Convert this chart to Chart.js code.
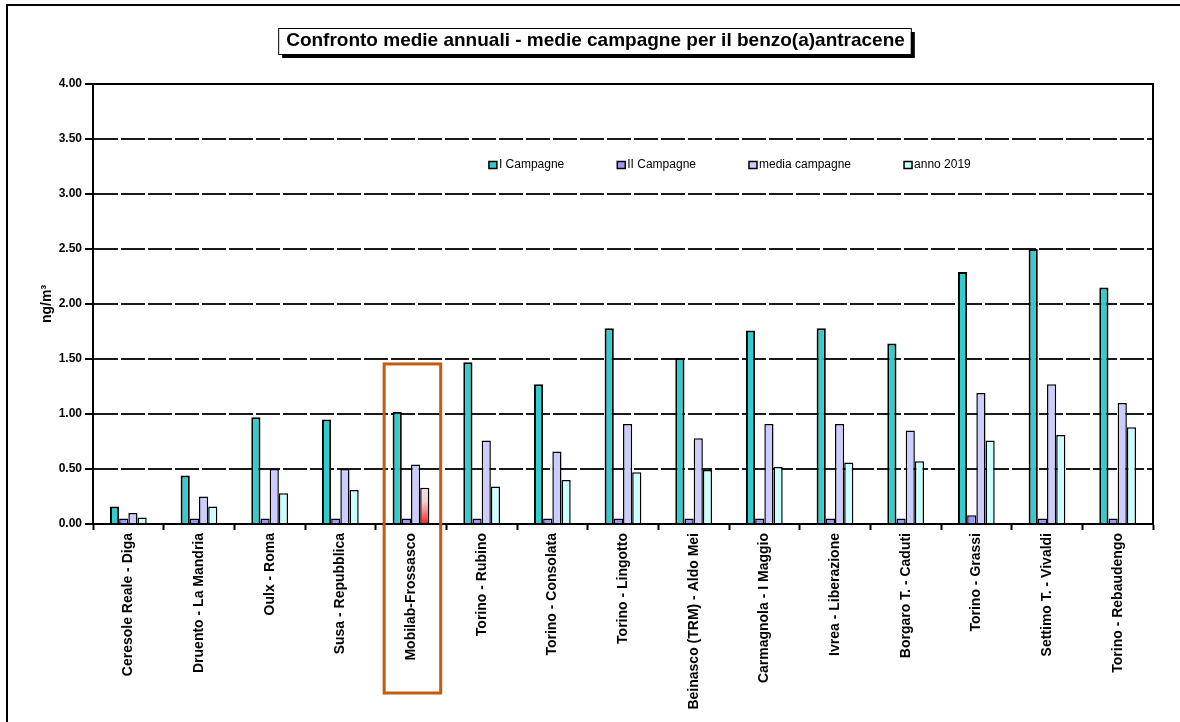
<!DOCTYPE html>
<html lang="it">
<head>
<meta charset="utf-8">
<title>Benzo(a)antracene - medie annuali e campagne</title>
<script src="https://cdn.jsdelivr.net/npm/chart.js@4.4.0/dist/chart.umd.min.js"></script>
<style>
  html, body { margin: 0; padding: 0; background: #fff; overflow: hidden; }
  #cornice { position: absolute; left: 6px; top: 4px; width: 1200px; height: 760px;
             border-left: 2px solid #000; border-top: 2px solid #000; }
  #box { position: absolute; left: 0; top: 0; width: 1180px; height: 722px; }
</style>
</head>
<body>
<div id="cornice"></div>
<div id="box"><canvas id="grafico"></canvas></div>
<script>
// stazioni e valori (ng/m3)
const stazioni = [
  "Ceresole Reale - Diga", "Druento - La Mandria", "Oulx - Roma", "Susa - Repubblica",
  "Mobilab-Frossasco", "Torino - Rubino", "Torino - Consolata", "Torino - Lingotto",
  "Beinasco (TRM) - Aldo Mei", "Carmagnola - I Maggio", "Ivrea - Liberazione",
  "Borgaro T. - Caduti", "Torino - Grassi", "Settimo T. - Vivaldi", "Torino - Rebaudengo"
];
const campagna1 = [0.16, 0.44, 0.97, 0.95, 1.02, 1.47, 1.27, 1.78, 1.51, 1.76, 1.78, 1.64, 2.29, 2.50, 2.15];
const campagna2 = [0.05, 0.05, 0.05, 0.05, 0.05, 0.05, 0.05, 0.05, 0.05, 0.05, 0.05, 0.05, 0.08, 0.05, 0.05];
const mediaCampagne = [0.10, 0.25, 0.50, 0.50, 0.54, 0.76, 0.66, 0.91, 0.78, 0.91, 0.91, 0.85, 1.19, 1.27, 1.10];
const anno2019 = [0.06, 0.16, 0.28, 0.31, 0.33, 0.34, 0.40, 0.47, 0.49, 0.52, 0.56, 0.57, 0.76, 0.81, 0.88];
const serie = ["I Campagne", "II Campagne", "media campagne", "anno 2019"];

const titolo = "Confronto medie annuali - medie campagne per il benzo(a)antracene";
const colori = ["#33CCCC", "#9999FF", "#CCCCFF", "#CCFFFF"];
const FONT = "'Liberation Sans', Arial, sans-serif";
const FONT_TITOLO = 19;
const mobilab = stazioni.indexOf("Mobilab-Frossasco");

// la barra 2019 del mobilab e' sfumata verso il rosso
function sfumatura(ctx) {
  const chart = ctx.chart;
  if (!chart.chartArea || ctx.dataIndex !== mobilab) return colori[3];
  const x = chart.scales.x, y = chart.scales.y;
  const passo = x.getPixelForValue(1) - x.getPixelForValue(0);
  const bw = passo * 0.52 / 4;
  const cx = x.getPixelForValue(mobilab);
  const g = chart.ctx.createLinearGradient(cx + bw * 0.2, y.getPixelForValue(ctx.raw), cx + bw * 2, y.getPixelForValue(0));
  g.addColorStop(0, "#e2efef");
  g.addColorStop(0.45, "#f6cccc");
  g.addColorStop(1, "#ff1010");
  return g;
}

// titolo spostato un po' a destra, con riquadro e ombra
const riquadroTitolo = {
  id: "riquadroTitolo",
  afterLayout(chart) {
    chart.titleBlock.left += 15;
    chart.titleBlock.right += 15;
  },
  beforeDraw(chart) {
    const ctx = chart.ctx, tb = chart.titleBlock;
    ctx.save();
    ctx.font = "bold " + FONT_TITOLO + "px " + FONT;
    const w = ctx.measureText(titolo).width;
    const cx = (tb.left + tb.right) / 2;
    const x0 = cx - w / 2 - 8, y0 = tb.top + 28, bw = w + 14, bh = 26;
    ctx.fillStyle = "#000";
    ctx.fillRect(x0 + 4, y0 + 4, bw, bh);
    ctx.fillStyle = "#fff";
    ctx.fillRect(x0, y0, bw, bh);
    ctx.strokeStyle = "#000";
    ctx.lineWidth = 1;
    ctx.strokeRect(x0 + 0.5, y0 + 0.5, bw, bh);
    ctx.restore();
  }
};

// cornice dell'area del grafico, legenda interna e riquadro arancio
const decorazioni = {
  id: "decorazioni",
  afterDatasetsDraw(chart) {
    const {ctx, chartArea: a} = chart;
    ctx.save();
    ctx.strokeStyle = "#000";
    ctx.lineWidth = 2;
    ctx.strokeRect(a.left, a.top, a.right - a.left, a.bottom - a.top);
    ctx.restore();
  },
  afterDraw(chart) {
    const {ctx, chartArea: a} = chart;
    const x = chart.scales.x, y = chart.scales.y;
    ctx.save();
    ctx.font = "12px " + FONT;
    ctx.textBaseline = "middle";
    let lx = a.left + a.width * 0.3735;
    const ly = a.top + 81;
    chart.data.datasets.forEach((ds, i) => {
      ctx.fillStyle = colori[i];
      ctx.fillRect(lx, ly - 3.5, 8, 7);
      ctx.strokeStyle = "#000";
      ctx.lineWidth = 1.5;
      ctx.strokeRect(lx, ly - 3.5, 8, 7);
      ctx.fillStyle = "#000";
      ctx.fillText(ds.label, lx + 10, ly);
      lx += 10 + ctx.measureText(ds.label).width + 53;
    });

    const passo = x.getPixelForValue(1) - x.getPixelForValue(0);
    const cx = x.getPixelForValue(mobilab);
    const top = y.getPixelForValue(1.455);
    ctx.strokeStyle = "#C55A11";
    ctx.lineWidth = 3;
    ctx.strokeRect(cx - passo * 0.38, top, passo * 0.8, a.bottom + 169 - top);
    ctx.restore();
  }
};

const valori = [campagna1, campagna2, mediaCampagne, anno2019];

new Chart(document.getElementById("grafico"), {
  type: "bar",
  data: {
    labels: stazioni,
    datasets: serie.map((nome, i) => ({
      label: nome,
      data: valori[i],
      backgroundColor: i === 3 ? sfumatura : colori[i],
      borderColor: "#000",
      borderWidth: i === 0 ? 2 : 1.5,
      categoryPercentage: 0.52,
      barPercentage: 1
    }))
  },
  options: {
    responsive: true,
    maintainAspectRatio: false,
    animation: false,
    layout: { padding: { left: 8, right: 27, top: 0, bottom: 0 } },
    plugins: {
      legend: { display: false },
      tooltip: { enabled: false },
      title: {
        display: true,
        text: titolo,
        color: "#000",
        font: { family: FONT, size: FONT_TITOLO, weight: "bold" },
        padding: { top: 29.6, bottom: 31.6 }
      }
    },
    scales: {
      x: {
        ticks: {
          autoSkip: false, minRotation: 90, maxRotation: 90, padding: 3,
          color: "#000", font: { family: FONT, size: 14, weight: "bold" }
        },
        grid: { display: true, drawOnChartArea: false, offset: true, tickLength: 6, tickColor: "#000", tickWidth: 2 },
        border: { color: "#000", width: 2 },
        afterFit: s => { s.height = 198; }
      },
      y: {
        min: 0, max: 4,
        ticks: {
          stepSize: 0.5, padding: 3, color: "#000",
          font: { family: FONT, size: 12, weight: "bold" },
          callback: v => v.toFixed(2)
        },
        grid: { color: "#1a1a1a", lineWidth: 2, tickLength: 8, tickColor: "#000", tickWidth: 2, tickBorderDash: [] },
        border: { display: true, color: "#000", width: 2, dash: [24, 3] },
        title: {
          display: true, text: "ng/m³", color: "#000",
          font: { family: FONT, size: 14, weight: "bold" },
          padding: { top: 31, bottom: 0 }
        },
        afterFit: s => { s.width = 85; }
      }
    }
  },
  plugins: [riquadroTitolo, decorazioni]
});
</script>
</body>
</html>
